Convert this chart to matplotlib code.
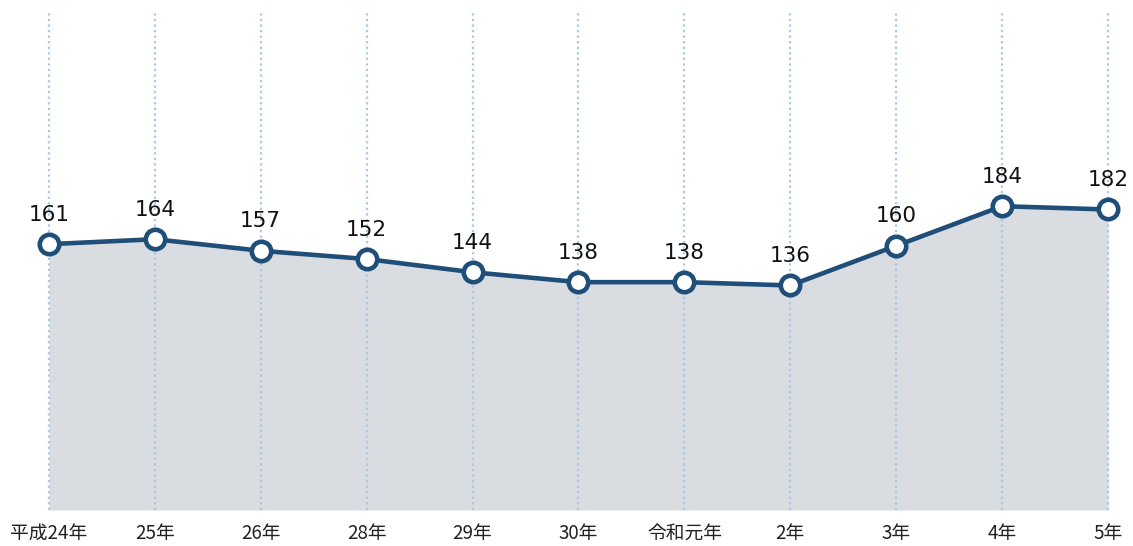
import matplotlib
matplotlib.use('Agg')
import matplotlib.pyplot as plt

plt.rcParams['font.family'] = ['Noto Sans CJK JP', 'DejaVu Sans']

labels = ['平成24年', '25年', '26年', '28年', '29年', '30年', '令和元年', '2年', '3年', '4年', '5年']
values = [161, 164, 157, 152, 144, 138, 138, 136, 160, 184, 182]

line_color = '#1f4e79'
fill_color = '#d9dce1'
grid_color = '#a9c8e8'

fig = plt.figure(figsize=(11.33, 5.46), dpi=100)
ax = fig.add_axes([0.0432, 0.0659, 0.9347, 0.9103])

x = list(range(len(values)))
ax.fill_between(x, values, 0, color=fill_color, zorder=1, linewidth=0)
for xi in x:
    ax.axvline(xi, color=grid_color, linestyle=(0, (1, 1.5)), linewidth=1.6,
               zorder=2, clip_on=False)
ax.plot(x, values, color=line_color, linewidth=3.3, marker='o', markersize=14,
        markerfacecolor='white', markeredgecolor=line_color, markeredgewidth=3.3,
        zorder=3, clip_on=False)

for xi, v in zip(x, values):
    ax.annotate(str(v), (xi, v), xytext=(0, 14), textcoords='offset points',
                ha='center', va='bottom', fontsize=15.5, family='DejaVu Sans', color='#111111')

ax.set_xlim(0, len(values) - 1)
ax.set_ylim(0, 301)
ax.set_xticks(x)
ax.set_xticklabels(labels, fontsize=13.5, color='#222222')
ax.set_yticks([])
ax.tick_params(axis='x', length=0, pad=9)
for s in ax.spines.values():
    s.set_visible(False)

fig.savefig('out.png', dpi=100)
